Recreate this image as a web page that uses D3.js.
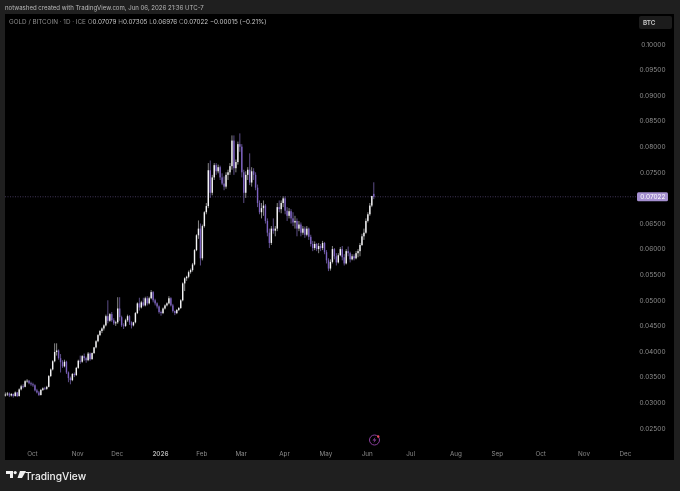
<!doctype html>
<html>
<head>
<meta charset="utf-8"/>
<title>GOLD / BITCOIN</title>
<script src="https://d3js.org/d3.v7.min.js"></script>
<style>
html,body{margin:0;padding:0;background:#1f1f1f;}
svg{display:block;filter:blur(0.3px);}
text{font-family:"Inter","Liberation Sans",sans-serif;}
</style>
</head>
<body>
<script>
// daily bars, Sep 11 2025 to Jun 5 2026
var opens=[0.0314,0.0316,0.0318,0.0314,0.0317,0.0313,0.0320,0.0313,0.0326,0.0332,0.0331,0.0342,0.0343,0.0338,0.0336,0.0334,0.0324,0.0320,0.0315,0.0325,
0.0328,0.0327,0.0331,0.0352,0.0365,0.0381,0.0399,0.0402,0.0387,0.0379,0.0371,0.0380,0.0359,0.0348,0.0344,0.0356,0.0354,0.0368,0.0382,0.0380,
0.0391,0.0387,0.0383,0.0396,0.0385,0.0397,0.0408,0.0420,0.0432,0.0440,0.0445,0.0451,0.0469,0.0460,0.0473,0.0461,0.0455,0.0457,0.0484,0.0467,
0.0451,0.0450,0.0461,0.0469,0.0457,0.0451,0.0457,0.0475,0.0494,0.0486,0.0496,0.0490,0.0504,0.0494,0.0504,0.0516,0.0500,0.0494,0.0488,0.0477,
0.0475,0.0484,0.0490,0.0494,0.0504,0.0490,0.0479,0.0475,0.0481,0.0485,0.0500,0.0533,0.0543,0.0546,0.0555,0.0559,0.0570,0.0598,0.0627,0.0640,
0.0582,0.0645,0.0672,0.0684,0.0754,0.0710,0.0740,0.0764,0.0752,0.0760,0.0740,0.0728,0.0722,0.0745,0.0750,0.0762,0.0812,0.0758,0.0770,0.0805,
0.0800,0.0750,0.0710,0.0745,0.0755,0.0730,0.0752,0.0745,0.0720,0.0690,0.0672,0.0680,0.0685,0.0655,0.0632,0.0612,0.0640,0.0636,0.0640,0.0682,
0.0678,0.0690,0.0699,0.0675,0.0665,0.0674,0.0660,0.0652,0.0655,0.0640,0.0648,0.0632,0.0640,0.0628,0.0640,0.0624,0.0610,0.0602,0.0610,0.0600,
0.0606,0.0602,0.0612,0.0594,0.0578,0.0562,0.0575,0.0600,0.0586,0.0574,0.0588,0.0600,0.0584,0.0572,0.0596,0.0592,0.0580,0.0586,0.0582,0.0592,
0.0596,0.0608,0.0625,0.0632,0.0655,0.0668,0.0685,0.07079];
var highs=[0.0320,0.0321,0.0320,0.0319,0.0318,0.0322,0.0321,0.0328,0.0335,0.0336,0.0344,0.0346,0.0344,0.0341,0.0339,0.0336,0.0327,0.0323,0.0327,0.0330,
0.0331,0.0333,0.0354,0.0367,0.0383,0.0416,0.0416,0.0404,0.0395,0.0383,0.0384,0.0382,0.0361,0.0351,0.0358,0.0359,0.0370,0.0384,0.0392,0.0393,
0.0396,0.0390,0.0399,0.0398,0.0398,0.0409,0.0422,0.0434,0.0442,0.0447,0.0453,0.0472,0.0500,0.0475,0.0477,0.0465,0.0460,0.0506,0.0506,0.0470,
0.0455,0.0464,0.0472,0.0471,0.0459,0.0458,0.0477,0.0496,0.0505,0.0499,0.0505,0.0507,0.0508,0.0507,0.0520,0.0518,0.0503,0.0496,0.0490,0.0480,
0.0486,0.0492,0.0496,0.0508,0.0506,0.0493,0.0480,0.0483,0.0487,0.0502,0.0535,0.0545,0.0548,0.0558,0.0562,0.0573,0.0600,0.0629,0.0656,0.0650,
0.0648,0.0674,0.0690,0.0768,0.0773,0.0745,0.0768,0.0768,0.0765,0.0763,0.0748,0.0742,0.0750,0.0755,0.0768,0.0822,0.0822,0.0775,0.0810,0.0826,
0.0805,0.0755,0.0752,0.0760,0.0787,0.0760,0.0758,0.0750,0.0726,0.0695,0.0690,0.0695,0.0688,0.0660,0.0640,0.0645,0.0660,0.0645,0.0690,0.0695,
0.0695,0.0703,0.0703,0.0682,0.0680,0.0678,0.0672,0.0665,0.0660,0.0655,0.0652,0.0645,0.0644,0.0645,0.0642,0.0628,0.0616,0.0615,0.0612,0.0612,
0.0610,0.0616,0.0614,0.0598,0.0582,0.0580,0.0606,0.0602,0.0592,0.0592,0.0604,0.0606,0.0590,0.0600,0.0605,0.0595,0.0590,0.0590,0.0596,0.0600,
0.0612,0.0630,0.0640,0.0660,0.0672,0.0690,0.0704,0.07305];
var lows=[0.0312,0.0313,0.0311,0.0312,0.0310,0.0312,0.0311,0.0312,0.0324,0.0328,0.0330,0.0339,0.0336,0.0333,0.0331,0.0322,0.0318,0.0313,0.0314,0.0323,
0.0325,0.0325,0.0330,0.0350,0.0363,0.0379,0.0392,0.0384,0.0359,0.0368,0.0369,0.0356,0.0340,0.0336,0.0342,0.0350,0.0352,0.0366,0.0376,0.0378,
0.0382,0.0378,0.0381,0.0382,0.0384,0.0395,0.0406,0.0418,0.0430,0.0436,0.0441,0.0449,0.0455,0.0458,0.0458,0.0452,0.0450,0.0454,0.0460,0.0448,
0.0444,0.0448,0.0458,0.0452,0.0445,0.0449,0.0455,0.0473,0.0480,0.0484,0.0488,0.0488,0.0490,0.0492,0.0502,0.0496,0.0490,0.0484,0.0474,0.0470,
0.0473,0.0482,0.0488,0.0492,0.0488,0.0476,0.0471,0.0473,0.0479,0.0483,0.0498,0.0518,0.0538,0.0543,0.0552,0.0556,0.0568,0.0596,0.0620,0.0568,
0.0578,0.0642,0.0668,0.0680,0.0700,0.0705,0.0735,0.0745,0.0748,0.0735,0.0725,0.0715,0.0718,0.0735,0.0745,0.0755,0.0745,0.0750,0.0765,0.0790,
0.0740,0.0690,0.0700,0.0735,0.0725,0.0722,0.0735,0.0715,0.0682,0.0668,0.0660,0.0665,0.0650,0.0625,0.0602,0.0608,0.0630,0.0625,0.0635,0.0672,
0.0670,0.0682,0.0668,0.0655,0.0660,0.0650,0.0645,0.0640,0.0625,0.0635,0.0625,0.0628,0.0622,0.0625,0.0618,0.0605,0.0596,0.0598,0.0596,0.0592,
0.0596,0.0598,0.0590,0.0572,0.0557,0.0558,0.0572,0.0580,0.0568,0.0572,0.0586,0.0578,0.0568,0.0570,0.0586,0.0574,0.0578,0.0578,0.0580,0.0584,
0.0586,0.0606,0.0618,0.0630,0.0652,0.0665,0.0682,0.06976];
var closes=[0.0316,0.0318,0.0314,0.0317,0.0313,0.0320,0.0313,0.0326,0.0332,0.0331,0.0342,0.0343,0.0338,0.0336,0.0334,0.0324,0.0320,0.0315,0.0325,0.0328,
0.0327,0.0331,0.0352,0.0365,0.0381,0.0399,0.0402,0.0387,0.0379,0.0371,0.0380,0.0359,0.0348,0.0344,0.0356,0.0354,0.0368,0.0382,0.0380,0.0391,
0.0387,0.0383,0.0396,0.0385,0.0397,0.0408,0.0420,0.0432,0.0440,0.0445,0.0451,0.0469,0.0460,0.0473,0.0461,0.0455,0.0457,0.0484,0.0467,0.0451,
0.0450,0.0461,0.0469,0.0457,0.0451,0.0457,0.0475,0.0494,0.0486,0.0496,0.0490,0.0504,0.0494,0.0504,0.0516,0.0500,0.0494,0.0488,0.0477,0.0475,
0.0484,0.0490,0.0494,0.0504,0.0490,0.0479,0.0475,0.0481,0.0485,0.0500,0.0533,0.0543,0.0546,0.0555,0.0559,0.0570,0.0598,0.0627,0.0640,0.0582,
0.0645,0.0672,0.0684,0.0754,0.0710,0.0740,0.0764,0.0752,0.0760,0.0740,0.0728,0.0722,0.0745,0.0750,0.0762,0.0812,0.0758,0.0770,0.0805,0.0800,
0.0750,0.0710,0.0745,0.0755,0.0730,0.0752,0.0745,0.0720,0.0690,0.0672,0.0680,0.0685,0.0655,0.0632,0.0612,0.0640,0.0636,0.0640,0.0682,0.0678,
0.0690,0.0699,0.0675,0.0665,0.0674,0.0660,0.0652,0.0655,0.0640,0.0648,0.0632,0.0640,0.0628,0.0640,0.0624,0.0610,0.0602,0.0610,0.0600,0.0606,
0.0602,0.0612,0.0594,0.0578,0.0562,0.0575,0.0600,0.0586,0.0574,0.0588,0.0600,0.0584,0.0572,0.0596,0.0592,0.0580,0.0586,0.0582,0.0592,0.0596,
0.0608,0.0625,0.0632,0.0655,0.0668,0.0685,0.07037,0.07022];

var priceTicks=[0.10,0.095,0.09,0.085,0.08,0.075,0.065,0.06,0.055,0.05,0.045,0.04,0.035,0.03,0.025];
var lastPrice=0.07022;
var holidays=["2025-12-25","2026-01-01","2026-04-03"];
var titleText="notwashed created with TradingView.com, Jun 06, 2026 21:36 UTC-7";
var legendName="GOLD / BITCOIN · 1D · ICE";
var legendVals=["O","0.07079","H","0.07305","L","0.06976","C","0.07022"];
var legendChange="−0.00015 (−0.21%)";

var W=680,H=491;
var svg=d3.select("body").append("svg").attr("width",W).attr("height",H);

svg.append("rect").attr("width",W).attr("height",H).attr("fill","#1f1f1f");
svg.append("rect").attr("x",5).attr("y",14).attr("width",669).attr("height",446).attr("fill","#000");

// sessions: weekdays minus the few market holidays, so months get the right width
var sessions=d3.utcDay.range(new Date(Date.UTC(2025,8,11)),new Date(Date.UTC(2027,0,1)))
	.filter(function(d){
		var k=d3.utcFormat("%Y-%m-%d")(d);
		return d.getUTCDay()!=0 && d.getUTCDay()!=6 && holidays.indexOf(k)<0;
	});

var x=d3.scaleLinear().domain([0,1]).range([5.4,7.37]);
var y=d3.scaleLinear().domain([0.10,0.025]).range([44.3,428.3]);

function sessionIndex(d){return d3.bisectLeft(sessions,d);}

// time labels
var months=d3.utcMonth.range(new Date(Date.UTC(2025,9,1)),new Date(Date.UTC(2027,0,1)));
svg.append("g").selectAll("text").data(months).enter().append("text")
	.attr("x",function(d){return x(sessionIndex(d))-0.6;})
	.attr("y",456)
	.attr("text-anchor","middle")
	.attr("font-size",6.3)
	.attr("font-weight",function(d){return d.getUTCMonth()==0?600:400;})
	.attr("fill",function(d){return d.getUTCMonth()==0?"#b4b4b4":"#8a8a8a";})
	.text(function(d){return d.getUTCMonth()==0?d.getUTCFullYear():d3.utcFormat("%b")(d);});

// price labels
svg.append("g").selectAll("text").data(priceTicks).enter().append("text")
	.attr("x",665.5)
	.attr("y",function(d){return y(d)+2.3;})
	.attr("text-anchor","end")
	.attr("font-size",6.5)
	.attr("fill","#8f8f8f")
	.text(function(d){return d.toFixed(5);});

// last price line
svg.append("line")
	.attr("x1",5).attr("x2",636)
	.attr("y1",y(lastPrice)).attr("y2",y(lastPrice))
	.attr("stroke","#6d5a94").attr("stroke-width",0.6).attr("stroke-dasharray","1 1.5");

// bars
var bars=svg.append("g").selectAll("g").data(d3.range(closes.length)).enter().append("g");
function barColor(i){return closes[i]>=opens[i]?"#f4f4f6":"#7d62c0";}
bars.append("line")
	.attr("x1",function(i){return x(i);})
	.attr("x2",function(i){return x(i);})
	.attr("y1",function(i){return y(highs[i]);})
	.attr("y2",function(i){return y(lows[i]);})
	.attr("stroke",function(i){return closes[i]>=opens[i]?"#a8a8a8":"#7461a8";})
	.attr("stroke-width",0.8);
bars.append("rect")
	.attr("x",function(i){return x(i)-0.7;})
	.attr("width",1.4)
	.attr("y",function(i){return y(Math.max(opens[i],closes[i]));})
	.attr("height",function(i){return Math.max(0.8,Math.abs(y(opens[i])-y(closes[i])));})
	.attr("fill",barColor);

// title strip and legend
svg.append("text").attr("x",5).attr("y",10).attr("font-size",6.05).attr("fill","#b8b8b8").text(titleText);
var leg=svg.append("text").attr("x",9).attr("y",23.8).attr("font-size",6.3).attr("fill","#8f8f8f");
leg.append("tspan").text(legendName+"   ");
legendVals.forEach(function(v,k){
	leg.append("tspan").attr("fill",k%2?"#c8c8c8":"#8f8f8f").text(v+(k%2?"  ":""));
});
leg.append("tspan").attr("fill","#c8c8c8").text(" "+legendChange);

// BTC box
svg.append("rect").attr("x",639).attr("y",16).attr("width",33).attr("height",13).attr("rx",2).attr("fill","#1c1c1c");
svg.append("text").attr("x",643).attr("y",24.6).attr("font-size",6.3).attr("font-weight",600).attr("fill","#cfcfcf").text("BTC");

// last price label
svg.append("rect").attr("x",637).attr("y",y(lastPrice)-4.5).attr("width",31).attr("height",9).attr("rx",1.5).attr("fill","#a48fd0");
svg.append("text").attr("x",665.5).attr("y",y(lastPrice)+2.3).attr("text-anchor","end").attr("font-size",6.5).attr("fill","#fff").text(lastPrice.toFixed(5));

// bolt marker
var bolt=svg.append("g").attr("transform","translate(374.5,440)");
bolt.append("circle").attr("r",5).attr("fill","none").attr("stroke","#8a3f9e").attr("stroke-width",1);
bolt.append("path").attr("d","M1,-3L-2,0.5H0L-1,3L2,-0.5H0Z").attr("fill","#8a3f9e");
bolt.append("circle").attr("cx",3.7).attr("cy",-3.5).attr("r",1.2).attr("fill","#ef4a5a");

// TradingView logo
var logo=svg.append("g").attr("transform","translate(6,471)").attr("fill","#f0f0f0");
logo.append("path").attr("d","M0,0H7V7H4V3H0Z");
logo.append("circle").attr("cx",9.2).attr("cy",1.6).attr("r",1.6);
logo.append("path").attr("d","M14,0H20L16,7H11.5Z");
svg.append("text").attr("x",25).attr("y",479.5).attr("font-size",10.2).attr("font-weight",500).attr("fill","#f0f0f0").text("TradingView");
</script>
</body>
</html>
